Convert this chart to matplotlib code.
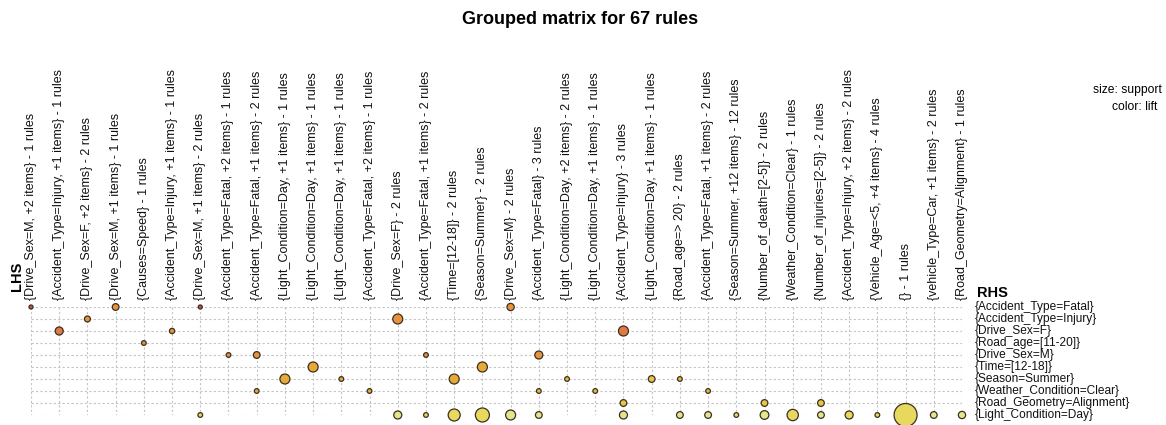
import numpy as np
import matplotlib
matplotlib.use("Agg")
import matplotlib.pyplot as plt
from matplotlib.colors import LinearSegmentedColormap, Normalize

plt.rcParams['font.family'] = ['Liberation Sans', 'DejaVu Sans']

# LHS groups (columns), left to right
lhs_labels = [
    "{Drive_Sex=M, +2 items} - 1 rules",
    "{Accident_Type=Injury, +1 items} - 1 rules",
    "{Drive_Sex=F, +2 items} - 2 rules",
    "{Drive_Sex=M, +1 items} - 1 rules",
    "{Causes=Speed} - 1 rules",
    "{Accident_Type=Injury, +1 items} - 1 rules",
    "{Drive_Sex=M, +1 items} - 2 rules",
    "{Accident_Type=Fatal, +2 items} - 1 rules",
    "{Accident_Type=Fatal, +1 items} - 2 rules",
    "{Light_Condition=Day, +1 items} - 1 rules",
    "{Light_Condition=Day, +1 items} - 1 rules",
    "{Light_Condition=Day, +1 items} - 1 rules",
    "{Accident_Type=Fatal, +2 items} - 1 rules",
    "{Drive_Sex=F} - 2 rules",
    "{Accident_Type=Fatal, +1 items} - 2 rules",
    "{Time=[12-18]} - 2 rules",
    "{Season=Summer} - 2 rules",
    "{Drive_Sex=M} - 2 rules",
    "{Accident_Type=Fatal} - 3 rules",
    "{Light_Condition=Day, +2 items} - 2 rules",
    "{Light_Condition=Day, +1 items} - 1 rules",
    "{Accident_Type=Injury} - 3 rules",
    "{Light_Condition=Day, +1 items} - 1 rules",
    "{Road_age=> 20} - 2 rules",
    "{Accident_Type=Fatal, +1 items} - 2 rules",
    "{Season=Summer, +12 items} - 12 rules",
    "{Number_of_death=[2-5]} - 2 rules",
    "{Weather_Condition=Clear} - 1 rules",
    "{Number_of_injuries=[2-5]} - 2 rules",
    "{Accident_Type=Injury, +2 items} - 2 rules",
    "{Vehicle_Age=<5, +4 items} - 4 rules",
    "{} - 1 rules",
    "{vehicle_Type=Car, +1 items} - 2 rules",
    "{Road_Geometry=Alignment} - 1 rules",
]

# RHS items (rows), top to bottom
rhs_labels = [
    "{Accident_Type=Fatal}",
    "{Accident_Type=Injury}",
    "{Drive_Sex=F}",
    "{Road_age=[11-20]}",
    "{Drive_Sex=M}",
    "{Time=[12-18]}",
    "{Season=Summer}",
    "{Weather_Condition=Clear}",
    "{Road_Geometry=Alignment}",
    "{Light_Condition=Day}",
]

# one entry per drawn circle: LHS column, RHS row, support, lift
point_lhs = [0, 1, 2, 3, 4, 5, 6, 6, 7, 8, 8, 9, 10, 11, 12, 13, 13, 14, 14,
             15, 15, 16, 16, 17, 17, 18, 18, 18, 19, 20, 21, 21, 21, 22, 23, 23,
             24, 24, 25, 26, 26, 27, 28, 28, 29, 30, 31, 32, 33]
point_rhs = [0, 2, 1, 0, 3, 2, 0, 9, 4, 4, 7, 6, 5, 6, 7, 1, 9, 4, 9,
             6, 9, 5, 9, 0, 9, 4, 7, 9, 6, 7, 2, 8, 9, 6, 6, 9,
             7, 9, 9, 8, 9, 9, 8, 9, 9, 9, 9, 9, 9]
support = [0.017, 0.067, 0.037, 0.047, 0.023, 0.029, 0.017, 0.023, 0.023, 0.047,
           0.023, 0.104, 0.104, 0.023, 0.023, 0.104, 0.067, 0.023, 0.023,
           0.104, 0.150, 0.104, 0.204, 0.055, 0.104, 0.067, 0.023, 0.047,
           0.023, 0.023, 0.104, 0.047, 0.067, 0.047, 0.023, 0.047,
           0.023, 0.047, 0.023, 0.047, 0.079, 0.133, 0.047, 0.047, 0.067,
           0.023, 0.550, 0.047, 0.055]
lift = [3.0, 2.5, 2.1, 2.1, 2.1, 2.1, 3.0, 1.15, 2.1, 2.1,
        1.65, 1.65, 1.65, 1.65, 1.65, 2.1, 1.0, 2.1, 1.15,
        1.65, 1.15, 1.65, 1.15, 2.1, 1.0, 2.1, 1.45, 1.0,
        1.45, 1.45, 2.5, 1.35, 1.0, 1.35, 1.45, 1.0,
        1.45, 1.0, 1.15, 1.35, 1.0, 1.15, 1.35, 1.0, 1.15,
        1.15, 1.15, 1.0, 1.0]

W, H = 1166, 425
fig = plt.figure(figsize=(W / 100, H / 100), dpi=100)

# plot area in pixels: columns from x=31 to 962, rows from y=307 to 415
x0, x1, y0, y1 = 31, 962, 307, 415
ax = fig.add_axes([x0 / W, (H - y1) / H, (x1 - x0) / W, (y1 - y0) / H])
n_col, n_row = len(lhs_labels), len(rhs_labels)
ax.set_xlim(0, n_col - 1)
ax.set_ylim(n_row - 1, 0)
ax.axis("off")

grid_kw = dict(colors="#c4c4c4", linestyles=(0, (2, 2)), linewidth=0.8, zorder=0)
ax.hlines(np.arange(n_row), 0, n_col - 1, **grid_kw)
ax.vlines(np.arange(n_col), 0, n_row - 1, **grid_kw)

cmap = LinearSegmentedColormap.from_list(
    "lift",
    [(0.0, "#e6e48c"), (0.075, "#e8d85e"), (0.175, "#e8c542"), (0.325, "#e8aa36"),
     (0.55, "#e8923c"), (0.75, "#e07a42"), (1.0, "#c4504c")])
norm = Normalize(1.0, 3.0)

sizes = (0.72 * 31) ** 2 * np.array(support)
ax.scatter(point_lhs, point_rhs, s=sizes, c=lift, cmap=cmap, norm=norm,
           edgecolors="#3a3022", linewidths=0.9, zorder=3, clip_on=False)

# column labels
for i, lab in enumerate(lhs_labels):
    ax.text(i, -7 / 12, lab, rotation=90, ha="center", va="bottom",
            fontsize=9, color="#111111", clip_on=False)

# row labels
for j, lab in enumerate(rhs_labels):
    ax.text((975 - x0) / (x1 - x0), j, lab, transform=ax.get_yaxis_transform(),
            ha="left", va="center", fontsize=8.6, color="#111111")

ax.text((977 - x0) / (x1 - x0), -14 / 12, "RHS", transform=ax.get_yaxis_transform(),
        ha="left", va="center", fontsize=10.5, fontweight="bold")
fig.text(17 / W, (H - 291) / H, "LHS", rotation=90, ha="center", va="bottom",
         fontsize=10.5, fontweight="bold")

fig.text(580 / W, 1 - 20 / H, "Grouped matrix for 67 rules", ha="center",
         va="center", fontsize=13, fontweight="bold")
fig.text(1162 / W, 1 - 90 / H, "size: support", ha="right", va="center", fontsize=8.7)
fig.text(1157 / W, 1 - 107 / H, "color: lift", ha="right", va="center", fontsize=8.7)

fig.savefig("out.png", dpi=100, facecolor="white")
